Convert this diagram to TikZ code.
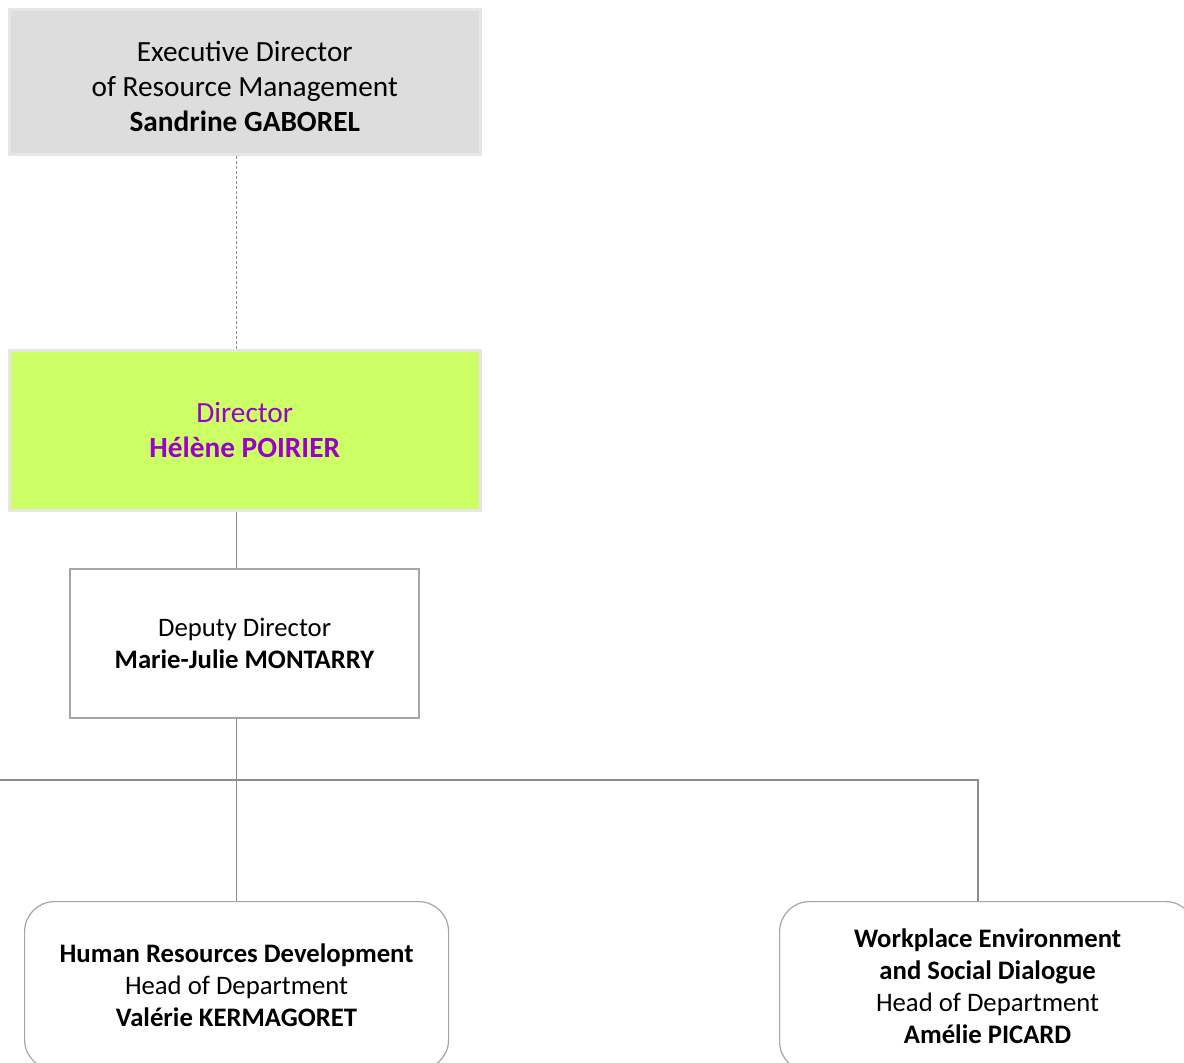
\documentclass[tikz,border=0pt]{standalone}
\usepackage{fontspec}
\setmainfont{Carlito}
\definecolor{topfill}{HTML}{DDDDDD}
\definecolor{softedge}{HTML}{E6E6E6}
\definecolor{limefill}{HTML}{CCFF66}
\definecolor{violettext}{HTML}{9900CC}
\definecolor{edgegray}{HTML}{A6A6A6}
\definecolor{linegray}{HTML}{8C8C8C}
\begin{document}
\begin{tikzpicture}[x=1pt,y=-1pt,
  basebox/.style={rectangle, align=center, inner sep=0pt, anchor=north west},
  bigtext/.style={font=\fontsize{29.3}{35}\selectfont},
  smalltext/.style={font=\fontsize{26.7}{32}\selectfont},
  execbox/.style={basebox, draw=softedge, line width=2.5pt, fill=topfill},
  dirbox/.style={basebox, bigtext, draw=softedge, line width=2.5pt, fill=limefill, text=violettext},
  depbox/.style={basebox, smalltext, draw=edgegray, line width=2.2pt, fill=white},
  deptbox/.style={basebox, smalltext, draw=edgegray, line width=1.2pt, fill=white, rounded corners=30pt},
  conn/.style={draw=linegray, line width=1.2pt},
  dconn/.style={conn, dash pattern=on 3pt off 2pt}]
\clip (0,0) rectangle (1184,1063);
\fill[white] (0,0) rectangle (1184,1063);

\node[execbox, minimum width=471, minimum height=145] (exec) at (8,8) {};
\node[bigtext, align=center, inner sep=0pt] (exectext) at ([yshift=-5pt]exec.center)
  {Executive Director\\of Resource Management\\\textbf{Sandrine GABOREL}};
\node[dirbox, minimum width=471, minimum height=160] (dir) at (8,349)
  {Director\\\textbf{Hélène POIRIER}};
\node[depbox, minimum width=349, minimum height=149] (dep) at (69,568)
  {Deputy Director\\\textbf{Marie-Julie MONTARRY}};
\node[deptbox, minimum width=424, minimum height=168] (hr) at (24,901)
  {\textbf{Human Resources Development}\\Head of Department\\\textbf{Valérie KERMAGORET}};
\node[deptbox, minimum width=416, minimum height=170] (we) at (779,901)
  {\textbf{Workplace Environment}\\\textbf{and Social Dialogue}\\Head of Department\\\textbf{Amélie PICARD}};

\coordinate (busL) at (-5,780);
\coordinate (busR) at (978,780);

\draw[dconn] (exec.south -| hr.north) -- (dir.north -| hr.north);
\draw[conn] (dir.south -| hr.north) -- (dep.north -| hr.north);
\draw[conn] (dep.south -| hr.north) -- (hr.north);
\draw[conn] (busL) -- (busR) -- (busR |- we.north);
\end{tikzpicture}
\end{document}
